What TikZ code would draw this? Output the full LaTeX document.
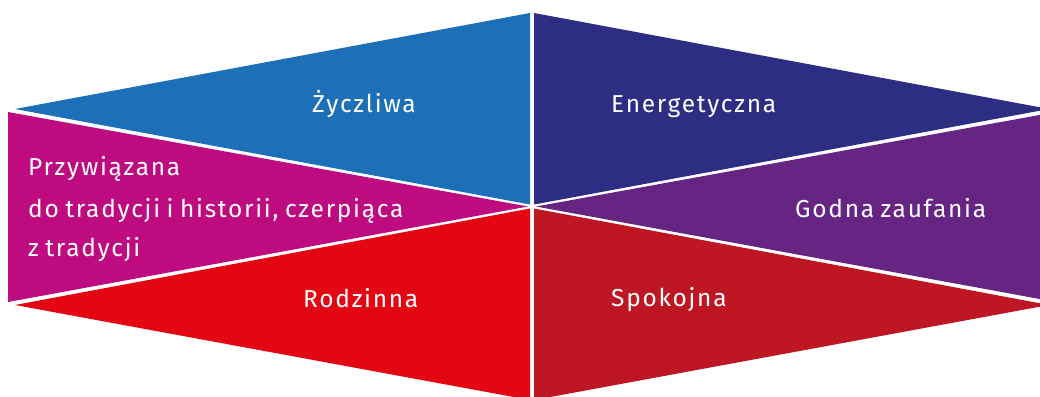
\documentclass[tikz,border=0pt]{standalone}
\usepackage{fontspec}
\setmainfont{Fira Sans}[LetterSpace=7]
\definecolor{cblue}{HTML}{1D70B7}
\definecolor{cnavy}{HTML}{2D2E83}
\definecolor{cmag}{HTML}{BE0B7F}
\definecolor{cpurp}{HTML}{662483}
\definecolor{cred}{HTML}{E30613}
\definecolor{cdred}{HTML}{BE1622}
\newcommand{\lblfont}{\fontsize{24.5}{29}\selectfont\spaceskip=6.5pt plus 1pt minus 1pt\relax}
\begin{document}
\begin{tikzpicture}[x=1pt,y=-1pt,
  lbl/.style={text=white,anchor=base west,inner sep=0pt,font=\lblfont}]
\useasboundingbox (0,0) rectangle (1040,396);
\fill[cblue] (15,109) -- (530,13) -- (530,204.5) -- cycle;
\fill[cnavy] (534,13) -- (534,204.5) -- (1049,109) -- cycle;
\fill[cmag] (8,112) -- (528,206.5) -- (8,302) -- cycle;
\fill[cpurp] (1056,112) -- (536,206.5) -- (1056,302) -- cycle;
\fill[cred] (15,305) -- (530,208.5) -- (530,400) -- cycle;
\fill[cdred] (534,208.5) -- (1049,305) -- (534,400) -- cycle;
\node[lbl] (n1) at (312,112) {Życzliwa};
\node[lbl] (n2) at (611,112) {Energetyczna};
\node[lbl] (n3) at (795,217) {Godna zaufania};
\node[lbl] (n4) at (28,175) {Przywiązana};
\node[lbl] (n5) at (28,217) {do tradycji i historii, czerpiąca};
\node[lbl] (n6) at (28,256) {z tradycji};
\node[lbl] (n7) at (303,307) {Rodzinna};
\node[lbl] (n8) at (611,306) {Spokojna};
\end{tikzpicture}
\end{document}
